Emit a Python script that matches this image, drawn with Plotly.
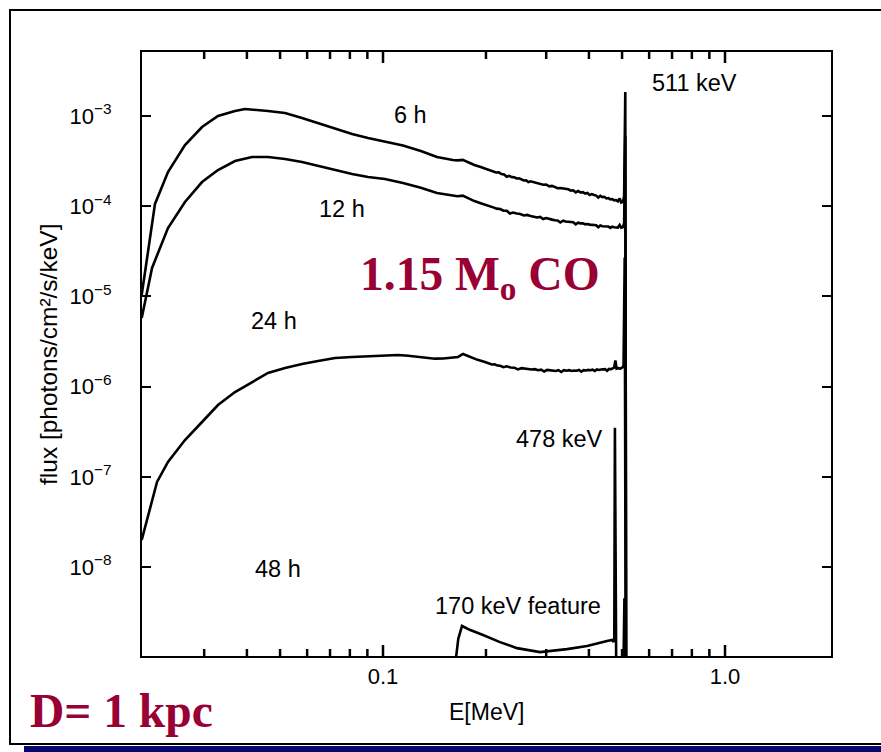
import math
import plotly.graph_objects as go

# ---------------- data ----------------
e_6h = [0.0197, 0.02154, 0.02351, 0.02636, 0.02957, 0.03292, 0.03692, 0.03949, 0.0461, 0.0517,
        0.05797, 0.06457, 0.0724, 0.0812, 0.0904, 0.1013, 0.1144, 0.129, 0.1438, 0.160,
        0.165, 0.171, 0.177, 0.185, 0.193,
        0.200, 0.205, 0.210, 0.214, 0.218, 0.222, 0.226, 0.230, 0.234, 0.238, 0.242, 0.246,
        0.250, 0.254, 0.258, 0.262, 0.266, 0.270, 0.274, 0.278, 0.282, 0.288, 0.294, 0.300,
        0.306, 0.312, 0.318, 0.324, 0.330, 0.336, 0.342, 0.348, 0.354, 0.360, 0.366, 0.372,
        0.378, 0.384, 0.390, 0.396, 0.402, 0.408, 0.414, 0.420, 0.426, 0.432, 0.438, 0.444,
        0.450, 0.456, 0.462, 0.468, 0.474, 0.480, 0.486, 0.492, 0.497, 0.503,
        0.507, 0.511, 0.515]
f_6h = [1.04e-5, 1.06e-4, 2.39e-4, 4.76e-4, 7.55e-4, 1.0e-3, 1.136e-3, 1.197e-3, 1.136e-3, 1.079e-3,
        9.5e-4, 8.36e-4, 7.18e-4, 6.31e-4, 5.70e-4, 5.15e-4, 4.70e-4, 4.09e-4, 3.51e-4, 3.25e-4,
        3.22e-4, 3.26e-4, 3.05e-4, 2.86e-4, 2.72e-4,
        2.60e-4, 2.51e-4, 2.45e-4, 2.36e-4, 2.37e-4, 2.27e-4, 2.25e-4, 2.12e-4, 2.17e-4, 2.10e-4, 2.09e-4, 2.03e-4,
        2.04e-4, 1.97e-4, 1.93e-4, 1.94e-4, 1.85e-4, 1.89e-4, 1.86e-4, 1.84e-4, 1.80e-4, 1.79e-4, 1.73e-4, 1.74e-4,
        1.66e-4, 1.68e-4, 1.63e-4, 1.58e-4, 1.59e-4, 1.57e-4, 1.53e-4, 1.54e-4, 1.49e-4, 1.50e-4, 1.42e-4, 1.47e-4,
        1.42e-4, 1.43e-4, 1.38e-4, 1.40e-4, 1.33e-4, 1.36e-4, 1.33e-4, 1.31e-4, 1.25e-4, 1.30e-4, 1.26e-4, 1.27e-4,
        1.22e-4, 1.23e-4, 1.19e-4, 1.20e-4, 1.16e-4, 1.17e-4, 1.13e-4, 1.22e-4, 1.10e-4, 1.12e-4,
        1.30e-4, 1.85e-3, 1e-11]

e_12h = [0.0197, 0.02112, 0.02351, 0.02636, 0.02957, 0.03292, 0.03692, 0.0414, 0.0461, 0.0517,
         0.05797, 0.06457, 0.0724, 0.0812, 0.0904, 0.1013, 0.1144, 0.129, 0.1438, 0.160,
         0.165, 0.171, 0.177, 0.185, 0.193,
         0.200, 0.205, 0.210, 0.215, 0.220, 0.225, 0.230, 0.235, 0.240, 0.246, 0.252, 0.258,
         0.264, 0.270, 0.276, 0.282, 0.288, 0.294, 0.300, 0.306, 0.312, 0.318, 0.324, 0.330,
         0.336, 0.342, 0.348, 0.354, 0.360, 0.366, 0.372, 0.378, 0.384, 0.390, 0.396, 0.402,
         0.408, 0.414, 0.420, 0.426, 0.432, 0.438, 0.444, 0.450, 0.456, 0.462, 0.468, 0.474,
         0.480, 0.486, 0.492, 0.497, 0.503,
         0.507, 0.511, 0.515]
f_12h = [5.76e-6, 2.07e-5, 5.73e-5, 1.113e-4, 1.853e-4, 2.52e-4, 3.17e-4, 3.51e-4, 3.51e-4, 3.34e-4,
         3.09e-4, 2.79e-4, 2.52e-4, 2.27e-4, 2.11e-4, 2.0e-4, 1.81e-4, 1.60e-4, 1.40e-4, 1.31e-4,
         1.29e-4, 1.31e-4, 1.23e-4, 1.14e-4, 1.08e-4,
         1.04e-4, 1.00e-4, 9.7e-5, 9.4e-5, 9.3e-5, 8.9e-5, 8.9e-5, 8.3e-5, 8.5e-5, 8.3e-5, 8.2e-5, 7.9e-5,
         8.0e-5, 7.8e-5, 7.7e-5, 7.5e-5, 7.6e-5, 7.2e-5, 7.4e-5, 7.2e-5, 7.1e-5, 7.0e-5, 6.95e-5, 6.6e-5,
         6.9e-5, 6.75e-5, 6.7e-5, 6.6e-5, 6.65e-5, 6.3e-5, 6.55e-5, 6.45e-5, 6.45e-5, 6.3e-5, 6.35e-5, 6.25e-5,
         6.2e-5, 6.15e-5, 6.15e-5, 5.85e-5, 6.1e-5, 6.0e-5, 5.98e-5, 5.95e-5, 5.95e-5, 5.75e-5, 5.92e-5, 5.85e-5,
         5.85e-5, 5.8e-5, 6.2e-5, 5.78e-5, 5.85e-5,
         6.5e-5, 6.0e-4, 1e-11]

e_24h = [0.0197, 0.02184, 0.02351, 0.02636, 0.02957, 0.03292, 0.03692, 0.0414, 0.0461, 0.0517,
         0.05797, 0.06457, 0.0724, 0.0812, 0.0904, 0.1000, 0.1106, 0.1185, 0.1265, 0.1340,
         0.1419, 0.150, 0.158, 0.1657, 0.1714, 0.1797, 0.189, 0.1987,
         0.204, 0.208, 0.212, 0.216, 0.220, 0.225, 0.230, 0.236, 0.242, 0.248, 0.254, 0.260,
         0.266, 0.272, 0.278, 0.284, 0.290, 0.296, 0.302, 0.308, 0.314, 0.320, 0.326, 0.332,
         0.338, 0.344, 0.350, 0.356, 0.362, 0.368, 0.374, 0.380, 0.386, 0.392, 0.398, 0.404,
         0.410, 0.416, 0.422, 0.428, 0.434, 0.440, 0.446, 0.452, 0.458, 0.464, 0.470, 0.474,
         0.478, 0.482, 0.488, 0.494, 0.500, 0.505, 0.509, 0.514]
f_24h = [1.99e-8, 8.76e-8, 1.46e-7, 2.56e-7, 4.05e-7, 6.25e-7, 8.7e-7, 1.125e-6, 1.416e-6, 1.607e-6,
         1.78e-6, 1.92e-6, 2.075e-6, 2.13e-6, 2.18e-6, 2.21e-6, 2.24e-6, 2.20e-6, 2.13e-6, 2.08e-6,
         2.04e-6, 2.05e-6, 2.08e-6, 2.13e-6, 2.30e-6, 2.13e-6, 1.98e-6, 1.87e-6,
         1.81e-6, 1.76e-6, 1.77e-6, 1.71e-6, 1.70e-6, 1.64e-6, 1.68e-6, 1.63e-6, 1.62e-6, 1.55e-6, 1.60e-6, 1.58e-6,
         1.57e-6, 1.55e-6, 1.56e-6, 1.52e-6, 1.54e-6, 1.47e-6, 1.53e-6, 1.51e-6, 1.52e-6, 1.49e-6, 1.52e-6, 1.45e-6,
         1.52e-6, 1.50e-6, 1.52e-6, 1.49e-6, 1.51e-6, 1.50e-6, 1.53e-6, 1.46e-6, 1.52e-6, 1.51e-6, 1.53e-6, 1.52e-6,
         1.54e-6, 1.49e-6, 1.55e-6, 1.53e-6, 1.55e-6, 1.54e-6, 1.56e-6, 1.50e-6, 1.57e-6, 1.56e-6, 1.59e-6, 1.62e-6,
         1.95e-6, 1.58e-6, 1.60e-6, 1.58e-6, 1.62e-6, 1.70e-6, 2.7e-5, 1e-11]

e_48h = [0.1600, 0.1660, 0.1702, 0.1800, 0.1961, 0.2198, 0.2465, 0.2877, 0.3452, 0.3950,
         0.4519, 0.4673, 0.4720, 0.4745, 0.4765, 0.4790, 0.4810, 0.5040, 0.5080, 0.5100, 0.5130]
f_48h = [5e-10, 1.6e-9, 2.22e-9, 2.0e-9, 1.76e-9, 1.47e-9, 1.26e-9, 1.14e-9, 1.23e-9, 1.33e-9,
         1.51e-9, 1.55e-9, 1.48e-9, 1.6e-9, 3.5e-7, 3.0e-8, 5e-10, 5e-10, 4.5e-9, 4.0e-9, 1e-11]

x_major_ticks = [0.1, 1.0]
x_major_labels = ["0.1", "1.0"]
x_minor_ticks = [0.03, 0.04, 0.05, 0.06, 0.07, 0.08, 0.09, 0.2, 0.3, 0.4, 0.5, 0.6, 0.7, 0.8, 0.9]
y_ticks = [1e-8, 1e-7, 1e-6, 1e-5, 1e-4, 1e-3]
y_labels = ["10<sup>\u22128</sup>", "10<sup>\u22127</sup>", "10<sup>\u22126</sup>",
            "10<sup>\u22125</sup>", "10<sup>\u22124</sup>", "10<sup>\u22123</sup>"]

curve_labels = ["6 h", "12 h", "24 h", "48 h"]

# ---------------- figure ----------------
W, H = 881, 752
L, R, T, B = 142, 831, 52, 656
SANS = "Liberation Sans, Arial, Helvetica, sans-serif"
SERIF = "Liberation Serif, Times New Roman, serif"
CRIMSON = "#990033"
XRANGE = [-1.7047, 0.3099]
YRANGE = [-8.9867, -2.2905]


def px(xp):
    return (xp - L) / (R - L)


def py(yp):
    return (B - yp) / (B - T)


def xfrac(v):
    return (math.log10(v) - XRANGE[0]) / (XRANGE[1] - XRANGE[0])


fig = go.Figure()
for e, f, name in [(e_6h, f_6h, curve_labels[0]), (e_12h, f_12h, curve_labels[1]),
                   (e_24h, f_24h, curve_labels[2]), (e_48h, f_48h, curve_labels[3])]:
    fig.add_trace(go.Scatter(x=e, y=f, mode="lines", name=name,
                             line=dict(color="black", width=2.6), showlegend=False))

fig.update_layout(
    width=W, height=H,
    margin=dict(l=L, r=W - R, t=T, b=H - B, pad=0),
    paper_bgcolor="white", plot_bgcolor="white",
    font=dict(family=SANS, size=22, color="black"),
    showlegend=False,
    xaxis=dict(
        type="log", range=XRANGE,
        showline=True, linewidth=2, linecolor="black", mirror=True,
        showgrid=False, zeroline=False,
        tickmode="array", tickvals=x_major_ticks, ticktext=x_major_labels,
        ticks="", tickfont=dict(size=22, family=SANS),
    ),
    yaxis=dict(
        type="log", range=YRANGE,
        showline=True, linewidth=2, linecolor="black", mirror="ticks",
        showgrid=False, zeroline=False,
        tickmode="array", tickvals=y_ticks, ticktext=y_labels,
        ticks="inside", ticklen=9, tickwidth=2, tickcolor="black",
        ticklabelstandoff=24,
        tickfont=dict(size=22, family=SANS),
    ),
)

H_PLOT = B - T
for vals, tlen in [(x_major_ticks, 11), (x_minor_ticks, 7)]:
    for v in vals:
        xf = xfrac(v)
        fig.add_shape(type="line", xref="paper", yref="paper", x0=xf, x1=xf,
                      y0=0, y1=tlen / H_PLOT, line=dict(color="black", width=2.5), layer="above")
        fig.add_shape(type="line", xref="paper", yref="paper", x0=xf, x1=xf,
                      y0=1, y1=1 - tlen / H_PLOT, line=dict(color="black", width=2.5), layer="above")

ann = []
for text, cx, cy in [("6 h", 410, 115), ("12 h", 342, 209), ("24 h", 274, 321), ("48 h", 278, 569),
                     ("511 keV", 694, 83), ("478 keV", 559, 439), ("170 keV feature", 518, 606)]:
    ann.append(dict(text=text, x=px(cx), y=py(cy), xref="paper", yref="paper",
                    showarrow=False, xanchor="center", yanchor="middle",
                    font=dict(family=SANS, size=23.5, color="black")))
ann.append(dict(text="E[MeV]", x=px(486), y=py(712), xref="paper", yref="paper", showarrow=False,
                xanchor="center", yanchor="middle", font=dict(family=SANS, size=23, color="black")))
ann.append(dict(text="flux [photons/cm\u00b2/s/keV]", x=px(48), y=py(355), xref="paper", yref="paper",
                showarrow=False, textangle=-90, xanchor="center", yanchor="middle",
                font=dict(family=SANS, size=24.5, color="black")))
ann.append(dict(text="<b>1.15 M<sub>o</sub> CO</b>", x=px(358), y=py(277), xref="paper", yref="paper",
                showarrow=False, xanchor="left", yanchor="middle",
                font=dict(family=SERIF, size=47.5, color=CRIMSON)))
ann.append(dict(text="<b>D= 1 kpc</b>", x=px(28), y=py(711), xref="paper", yref="paper",
                showarrow=False, xanchor="left", yanchor="middle",
                font=dict(family=SERIF, size=47.5, color=CRIMSON)))
fig.update_layout(annotations=ann)

fig.add_shape(type="rect", xref="paper", yref="paper",
              x0=px(10), x1=px(940), y0=py(744), y1=py(10),
              line=dict(color="black", width=2), fillcolor="rgba(0,0,0,0)", layer="below")
fig.add_shape(type="rect", xref="paper", yref="paper",
              x0=px(24), x1=px(940), y0=py(780), y1=py(746),
              line=dict(width=0), fillcolor="#06066e", layer="above")

fig.write_html("out.html")
